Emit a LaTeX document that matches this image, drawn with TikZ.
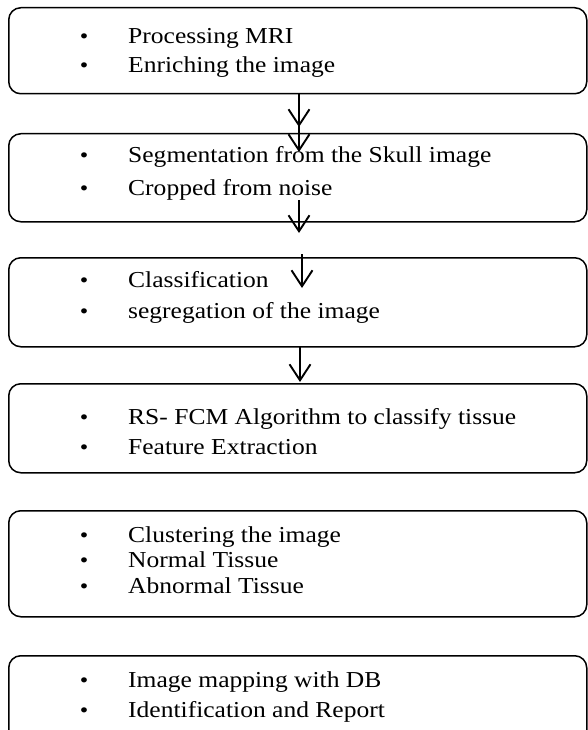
\documentclass[tikz,border=0pt]{standalone}
\usepackage{fontspec}
\setmainfont{Liberation Serif}[FakeStretch=1.12]
\usetikzlibrary{arrows.meta}
\begin{document}
\begin{tikzpicture}[x=1pt,y=-1pt,
  stepbox/.style={draw=black, line width=1.5pt, rounded corners=12pt, inner sep=0pt, anchor=north west, minimum width=578pt},
  txt/.style={anchor=base west, inner sep=0pt, font=\fontsize{22.8}{27}\selectfont},
  bul/.style={anchor=base, inner sep=0pt, font=\fontsize{21.6}{26}\selectfont},
  flow/.style={line width=1.9pt, -{Straight Barb[length=16pt, width=21pt, line width=1.9pt]}}
]
\clip (0,0) rectangle (588,730);
\fill[white] (0,0) rectangle (588,730);

% boxes
\node[stepbox, minimum height=86pt] (b1) at (8,7) {};
\node[stepbox, minimum height=88pt] (b2) at (8,133) {};
\node[stepbox, minimum height=89pt] (b3) at (8,257) {};
\node[stepbox, minimum height=89pt] (b4) at (8,383) {};
\node[stepbox, minimum height=106pt] (b5) at (8,510) {};
\node[stepbox, minimum height=90pt] (b6) at (8,655) {};

% box 1
\node[bul] (p11) at (84,44) {\textbullet};
\node[txt] (t11) at (128,44) {Processing MRI};
\node[bul] (p12) at (84,73) {\textbullet};
\node[txt] (t12) at (128,73) {Enriching the image};
% box 2
\node[bul] (p21) at (84,163) {\textbullet};
\node[txt] (t21) at (128,163) {Segmentation from the Skull image};
\node[bul] (p22) at (84,195) {\textbullet};
\node[txt] (t22) at (128,195) {Cropped from noise};
% box 3
\node[bul] (p31) at (84,287) {\textbullet};
\node[txt] (t31) at (128,287) {Classification};
\node[bul] (p32) at (84,318) {\textbullet};
\node[txt] (t32) at (128,318) {segregation of the image};
% box 4
\node[bul] (p41) at (84,424) {\textbullet};
\node[txt] (t41) at (128,424) {RS- FCM Algorithm to classify tissue};
\node[bul] (p42) at (84,454) {\textbullet};
\node[txt] (t42) at (128,454) {Feature Extraction};
% box 5
\node[bul] (p51) at (84,542) {\textbullet};
\node[txt] (t51) at (128,542) {Clustering the image};
\node[bul] (p52) at (84,567) {\textbullet};
\node[txt] (t52) at (128,567) {Normal Tissue};
\node[bul] (p53) at (84,593) {\textbullet};
\node[txt] (t53) at (128,593) {Abnormal Tissue};
% box 6
\node[bul] (p61) at (84,687) {\textbullet};
\node[txt] (t61) at (128,687) {Image mapping with DB};
\node[bul] (p62) at (84,717) {\textbullet};
\node[txt] (t62) at (128,717) {Identification and Report};

% arrows
\coordinate (a1s) at (299,93);  \coordinate (a1e) at (299,127);
\coordinate (a2s) at (299,122); \coordinate (a2e) at (299,152);
\coordinate (a3s) at (299,200); \coordinate (a3e) at (299,233);
\coordinate (a4s) at (302,254); \coordinate (a4e) at (302,288);
\coordinate (a5s) at (300,346); \coordinate (a5e) at (300,382);
\draw[flow] (a1s) -- (a1e);
\draw[flow] (a2s) -- (a2e);
\draw[flow] (a3s) -- (a3e);
\draw[flow] (a4s) -- (a4e);
\draw[flow] (a5s) -- (a5e);
\end{tikzpicture}
\end{document}
